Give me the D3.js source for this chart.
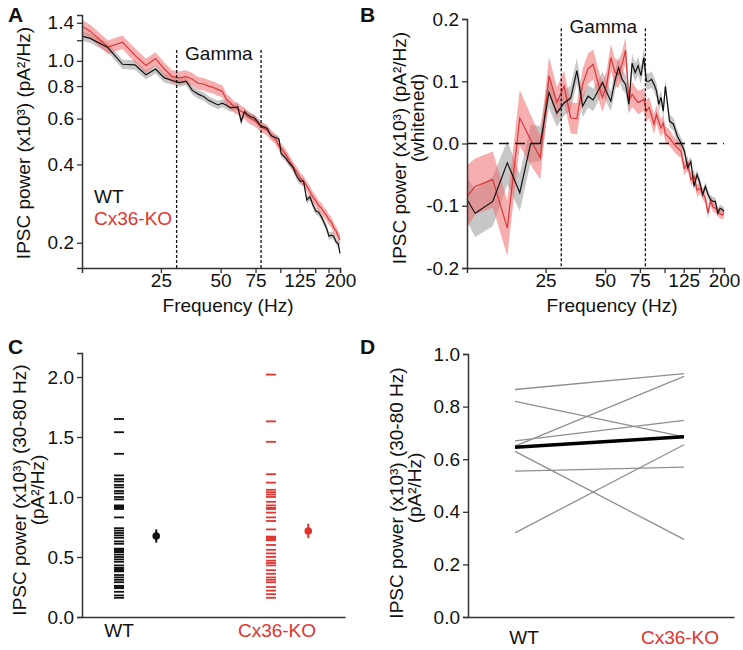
<!DOCTYPE html>
<html>
<head>
<meta charset="utf-8">
<script src="https://cdn.jsdelivr.net/npm/d3@7"></script>
<style>
  body { margin: 0; background: #fff; }
  svg text { font-family: "Liberation Sans", Arial, sans-serif; fill: #111; }
</style>
</head>
<body>
<svg id="fig" width="743" height="650"></svg>
<script>
// frequency grid (Hz) shared by panels A and B
const freqs = [10, 11, 13.5, 16, 18.5, 21, 23.5, 26, 28.5, 31, 33.5, 36, 38.5, 41, 43.5, 46, 48.5, 51, 53.5, 56,
  58.5, 61, 63.5, 66, 68.5, 71, 73.5, 76, 78.5, 81, 83.5, 86, 88.5, 91, 93.5, 96, 98.5, 101,
  106, 111, 116, 121, 126, 131, 136, 141, 146, 151, 156, 161, 166, 171, 176, 181, 186, 191, 196, 200]

// A: raw IPSC power (x10^3 pA^2/Hz)
const wtA = [1.245, 1.22, 1.125, 0.97, 0.965, 0.885, 0.93, 0.86, 0.84, 0.825,
  0.835, 0.77, 0.745, 0.73, 0.705, 0.69, 0.677, 0.688, 0.675, 0.66,
  0.662, 0.667, 0.585, 0.638, 0.62, 0.61, 0.605, 0.59, 0.57, 0.56,
  0.555, 0.55, 0.525, 0.512, 0.51, 0.505, 0.50, 0.44,
  0.425, 0.405, 0.39, 0.36, 0.345, 0.345, 0.292, 0.30, 0.28, 0.265,
  0.262, 0.252, 0.24, 0.228, 0.212, 0.214, 0.212, 0.202, 0.198, 0.182]
const wtSemA = [0.05, 0.05, 0.045, 0.04, 0.04, 0.035, 0.035, 0.035, 0.03, 0.03,
  0.03, 0.03, 0.028, 0.028, 0.026, 0.025, 0.025, 0.024, 0.024, 0.023,
  0.022, 0.022, 0.02, 0.02, 0.02, 0.019, 0.018, 0.018, 0.017, 0.017,
  0.016, 0.016, 0.015, 0.015, 0.015, 0.014, 0.014, 0.013,
  0.013, 0.012, 0.012, 0.011, 0.011, 0.01, 0.01, 0.009, 0.009, 0.009,
  0.008, 0.008, 0.008, 0.007, 0.007, 0.007, 0.007, 0.006, 0.006, 0.006]
const koA = [1.355, 1.30, 1.13, 1.18, 1.05, 0.96, 1.02, 0.93, 0.87, 0.86,
  0.87, 0.85, 0.82, 0.815, 0.80, 0.79, 0.775, 0.765, 0.71, 0.69,
  0.665, 0.655, 0.64, 0.628, 0.61, 0.60, 0.592, 0.58, 0.565, 0.555,
  0.548, 0.54, 0.525, 0.515, 0.505, 0.49, 0.47, 0.462,
  0.44, 0.415, 0.392, 0.375, 0.355, 0.345, 0.33, 0.315, 0.30, 0.29,
  0.278, 0.272, 0.262, 0.255, 0.245, 0.24, 0.228, 0.222, 0.212, 0.205]
const koSemA = [0.08, 0.075, 0.07, 0.07, 0.065, 0.06, 0.06, 0.055, 0.05, 0.05,
  0.05, 0.048, 0.046, 0.045, 0.044, 0.043, 0.042, 0.04, 0.038, 0.036,
  0.035, 0.034, 0.033, 0.032, 0.031, 0.03, 0.029, 0.028, 0.027, 0.026,
  0.025, 0.025, 0.024, 0.023, 0.022, 0.022, 0.021, 0.02,
  0.02, 0.019, 0.018, 0.017, 0.017, 0.016, 0.015, 0.015, 0.014, 0.014,
  0.013, 0.013, 0.012, 0.012, 0.011, 0.011, 0.011, 0.01, 0.01, 0.01]

// B: whitened IPSC power
const wtB = [-0.090, -0.112, -0.093, -0.031, -0.079, 0.000, 0.000, 0.082, 0.049, 0.065,
  0.073, 0.117, 0.060, 0.076, 0.070, 0.084, 0.098, 0.082, 0.068, 0.100,
  0.122, 0.103, 0.095, 0.063, 0.129, 0.114, 0.125, 0.109, 0.138, 0.100,
  0.100, 0.103, 0.095, 0.085, 0.063, 0.074, 0.052, 0.092,
  0.036, 0.031, 0.012, 0.001, -0.012, -0.039, -0.029, -0.069, -0.050, -0.063,
  -0.082, -0.069, -0.082, -0.090, -0.093, -0.093, -0.112, -0.104, -0.106, -0.109]
const wtSemB = [0.035, 0.038, 0.04, 0.035, 0.03, 0.03, 0.028, 0.025, 0.022, 0.02,
  0.02, 0.02, 0.018, 0.018, 0.018, 0.017, 0.017, 0.017, 0.016, 0.016,
  0.016, 0.016, 0.015, 0.015, 0.015, 0.015, 0.014, 0.014, 0.014, 0.013,
  0.013, 0.013, 0.012, 0.012, 0.012, 0.011, 0.011, 0.011,
  0.01, 0.01, 0.01, 0.009, 0.009, 0.009, 0.008, 0.008, 0.008, 0.008,
  0.007, 0.007, 0.007, 0.007, 0.007, 0.006, 0.006, 0.006, 0.006, 0.006]
const koB = [-0.085, -0.069, -0.058, -0.136, 0.041, 0.006, -0.023, 0.109, 0.066, 0.092,
  0.041, 0.040, 0.095, 0.120, 0.127, 0.098, 0.074, 0.095, 0.138, 0.115,
  0.111, 0.127, 0.150, 0.068, 0.079, 0.072, 0.066, 0.068, 0.071, 0.052,
  0.058, 0.045, 0.031, 0.047, 0.035, 0.025, 0.033, 0.015,
  0.009, 0.000, -0.007, -0.012, -0.040, -0.031, -0.058, -0.052, -0.075, -0.072,
  -0.080, -0.088, -0.112, -0.092, -0.102, -0.104, -0.109, -0.113, -0.115, -0.112]
const koSemB = [0.05, 0.045, 0.045, 0.045, 0.045, 0.04, 0.035, 0.03, 0.025, 0.025,
  0.025, 0.025, 0.025, 0.025, 0.024, 0.024, 0.023, 0.023, 0.022, 0.022,
  0.022, 0.021, 0.021, 0.02, 0.02, 0.019, 0.019, 0.018, 0.018, 0.017,
  0.017, 0.016, 0.016, 0.015, 0.015, 0.014, 0.014, 0.013,
  0.013, 0.012, 0.012, 0.011, 0.011, 0.011, 0.01, 0.01, 0.01, 0.009,
  0.009, 0.009, 0.008, 0.008, 0.008, 0.008, 0.007, 0.007, 0.007, 0.007]

const freqTicks = [25, 50, 75, 100, 125, 150, 175, 200]
const freqLabels = [25, 50, 75, 125, 200]
const gammaBand = [30, 80]

// C: per-cell gamma power (30-80 Hz)
const groups = ['WT', 'Cx36-KO']
const wtC = [1.65, 1.54, 1.36, 1.18, 1.15, 1.13, 1.10, 1.08, 1.05, 1.03, 1.00, 0.98, 0.93, 0.92, 0.91, 0.90,
  0.83, 0.74, 0.72, 0.70, 0.68, 0.66, 0.63, 0.61, 0.57, 0.56, 0.55, 0.54, 0.52, 0.50, 0.48, 0.46,
  0.43, 0.41, 0.40, 0.39, 0.38, 0.35, 0.33, 0.31, 0.29, 0.26, 0.25, 0.24, 0.21, 0.18, 0.16]
const koC = [2.02, 1.63, 1.46, 1.19, 1.12, 1.06, 1.04, 1.02, 1.00, 0.96, 0.93, 0.91, 0.90, 0.87, 0.83, 0.80,
  0.73, 0.67, 0.66, 0.65, 0.64, 0.60, 0.56, 0.53, 0.50, 0.47, 0.45, 0.43, 0.39, 0.36, 0.33, 0.31,
  0.29, 0.25, 0.22, 0.19, 0.16]
const meanC = [0.675, 0.717]
const semC = [0.055, 0.06]

// D: per-animal means
const wtD = [0.865, 0.82, 0.67, 0.65, 0.63, 0.555, 0.32]
const koD = [0.925, 0.685, 0.748, 0.915, 0.295, 0.57, 0.655]
const meanD = [0.645, 0.685]

const RED = '#e2342f'
const FS = 19
const svg = d3.select('#fig')

function styleAxis (g) {
  g.attr('font-family', null).attr('font-size', FS)
  g.select('.domain').attr('stroke', '#333').attr('stroke-width', 1.5)
  g.selectAll('.tick line').attr('stroke', '#333').attr('stroke-width', 1.3)
  g.selectAll('.tick text').attr('fill', '#111')
}

function ylabel (lines, x0, centers) {
  lines.forEach((t, i) => {
    svg.append('text')
      .attr('transform', `translate(${x0 + i * 18},${centers[i]}) rotate(-90)`)
      .attr('text-anchor', 'middle').attr('font-size', FS)
      .text(t)
  })
}

function letter (t, x, y) {
  svg.append('text').attr('x', x).attr('y', y)
    .attr('font-size', 21).attr('font-weight', 'bold').text(t)
}

// spectrum panel (A and B share the layout)
function spectrum (x, y, wt, wtSem, ko, koSem) {
  const band = (v, s) => d3.area()
    .x((d, i) => x(freqs[i]))
    .y0((d, i) => y(v[i] - s[i]))
    .y1((d, i) => y(v[i] + s[i]))
  const line = d3.line().x((d, i) => x(freqs[i])).y(d => y(d))
  svg.append('path').datum(wt).attr('d', band(wt, wtSem)).attr('fill', '#bdbdbd').attr('opacity', 0.85)
  svg.append('path').datum(ko).attr('d', band(ko, koSem)).attr('fill', '#ef6b6e').attr('opacity', 0.55)
  svg.append('path').datum(ko).attr('d', line).attr('fill', 'none').attr('stroke', '#d9383a').attr('stroke-width', 1.2)
  svg.append('path').datum(wt).attr('d', line).attr('fill', 'none').attr('stroke', '#111').attr('stroke-width', 1.2)
}

function freqAxis (x, y0) {
  svg.append('g').attr('transform', `translate(0,${y0})`)
    .call(d3.axisBottom(x).tickValues(freqTicks).tickSizeOuter(0).tickSize(5).tickPadding(1)
      .tickFormat(d => freqLabels.includes(d) ? d : ''))
    .call(styleAxis)
}

function gammaLines (x, yTop, yBot, textY) {
  gammaBand.forEach(f => {
    svg.append('line').attr('x1', x(f)).attr('x2', x(f)).attr('y1', yTop).attr('y2', yBot)
      .attr('stroke', '#111').attr('stroke-width', 1.3).attr('stroke-dasharray', '3,2')
  })
  svg.append('text').attr('x', (x(gammaBand[0]) + x(gammaBand[1])) / 2).attr('y', textY)
    .attr('text-anchor', 'middle').attr('font-size', FS).text('Gamma')
}

// ---- A ----
const xA = d3.scaleLog().domain([10, 200]).range([82, 340])
const yA = d3.scaleLog().domain([0.16, 1.5]).range([268, 15])
spectrum(xA, yA, wtA, wtSemA, koA, koSemA)
gammaLines(xA, yA(1.1), yA.range()[0], 60)
freqAxis(xA, yA.range()[0])
svg.append('g').attr('transform', `translate(${xA.range()[0]},0)`)
  .call(d3.axisLeft(yA).tickValues([0.2, 0.4, 0.6, 0.8, 1.0, 1.2, 1.4]).tickSizeOuter(0).tickSize(5)
    .tickFormat(d => d === 1.2 ? '' : d.toFixed(1)))
  .call(styleAxis)
svg.append('text').attr('x', 94).attr('y', 203).attr('font-size', FS).text('WT')
svg.append('text').attr('x', 94).attr('y', 225).attr('font-size', FS).style('fill', RED).text('Cx36-KO')
svg.append('text').attr('x', 228).attr('y', 312).attr('text-anchor', 'middle').attr('font-size', FS).text('Frequency (Hz)')
ylabel(['IPSC power (x10³) (pA²/Hz)'], 30, [143])
letter('A', 8, 22)

// ---- B ----
const xB = d3.scaleLog().domain([10, 200]).range([467, 724])
const yB = d3.scaleLinear().domain([-0.2, 0.2]).range([268, 19])
spectrum(xB, yB, wtB, wtSemB, koB, koSemB)
svg.append('line').attr('x1', xB.range()[0]).attr('x2', xB.range()[1]).attr('y1', yB(0)).attr('y2', yB(0))
  .attr('stroke', '#111').attr('stroke-width', 1.5).attr('stroke-dasharray', '10,6')
gammaLines(xB, yB(0.185), yB.range()[0], 33)
freqAxis(xB, yB.range()[0])
svg.append('g').attr('transform', `translate(${xB.range()[0]},0)`)
  .call(d3.axisLeft(yB).tickValues([-0.2, -0.1, 0, 0.1, 0.2]).tickSizeOuter(0).tickSize(5)
    .tickFormat(d => d.toFixed(1)))
  .call(styleAxis)
svg.append('text').attr('x', 612).attr('y', 312).attr('text-anchor', 'middle').attr('font-size', FS).text('Frequency (Hz)')
ylabel(['IPSC power (x10³) (pA²/Hz)', '(whitened)'], 406, [148, 118])
letter('B', 360, 22)

// ---- C ----
const xC = d3.scaleLinear().domain([0, 1]).range([119, 271])
const yC = d3.scaleLinear().domain([0, 2.2]).range([617, 353])
const meanOffset = 0.245
const colorsC = ['#111', RED];
[wtC, koC].forEach((vals, gi) => {
  svg.append('g').selectAll('line').data(vals).join('line')
    .attr('x1', xC(gi) - 5).attr('x2', xC(gi) + 5)
    .attr('y1', d => yC(d)).attr('y2', d => yC(d))
    .attr('stroke', colorsC[gi]).attr('stroke-width', 1.8)
  const mx = xC(gi + meanOffset)
  svg.append('line').attr('x1', mx).attr('x2', mx)
    .attr('y1', yC(meanC[gi] - semC[gi])).attr('y2', yC(meanC[gi] + semC[gi]))
    .attr('stroke', colorsC[gi]).attr('stroke-width', 2)
  svg.append('circle').attr('cx', mx).attr('cy', yC(meanC[gi])).attr('r', 3.8).attr('fill', colorsC[gi])
  svg.append('text').attr('x', xC(gi) + gi * 6).attr('y', 637).attr('text-anchor', 'middle')
    .attr('font-size', FS).style('fill', gi ? RED : '#111').text(groups[gi])
})
svg.append('g').attr('transform', `translate(0,${yC.range()[0]})`)
  .call(d3.axisBottom(d3.scaleLinear().range([82, 345])).tickValues([]).tickSizeOuter(0))
  .call(styleAxis)
svg.append('g').attr('transform', 'translate(82,0)')
  .call(d3.axisLeft(yC).tickValues([0, 0.5, 1, 1.5, 2]).tickSizeOuter(0).tickSize(5)
    .tickFormat(d => d.toFixed(1)))
  .call(styleAxis)
ylabel(['IPSC power (x10³) (30-80 Hz)', '(pA²/Hz)'], 26, [490, 490])
letter('C', 8, 354)

// ---- D ----
const xD = d3.scalePoint().domain(groups).range([515, 684])
const yD = d3.scaleLinear().domain([0, 1]).range([617, 354])
svg.append('g').selectAll('line').data(wtD).join('line')
  .attr('x1', xD('WT')).attr('x2', xD('Cx36-KO'))
  .attr('y1', d => yD(d)).attr('y2', (d, i) => yD(koD[i]))
  .attr('stroke', '#8f8f8f').attr('stroke-width', 1.3)
svg.append('line').attr('x1', xD('WT')).attr('x2', xD('Cx36-KO'))
  .attr('y1', yD(meanD[0])).attr('y2', yD(meanD[1]))
  .attr('stroke', '#000').attr('stroke-width', 3.5)
svg.append('g').attr('transform', `translate(0,${yD.range()[0]})`)
  .call(d3.axisBottom(d3.scaleLinear().range([468, 734])).tickValues([]).tickSizeOuter(0))
  .call(styleAxis)
svg.append('g').attr('transform', 'translate(468,0)')
  .call(d3.axisLeft(yD).tickValues([0, 0.2, 0.4, 0.6, 0.8, 1.0]).tickSizeOuter(0).tickSize(5)
    .tickFormat(d => d.toFixed(1)))
  .call(styleAxis)
const labelD = d3.scalePoint().domain(groups).range([524, 680])
groups.forEach((g, gi) => {
  svg.append('text').attr('x', labelD(g)).attr('y', 644).attr('text-anchor', 'middle')
    .attr('font-size', FS).style('fill', gi ? RED : '#111').text(g)
})
ylabel(['IPSC power (x10³) (30-80 Hz)', '(pA²/Hz)'], 403, [493, 488])
letter('D', 360, 354)
</script>
</body>
</html>
